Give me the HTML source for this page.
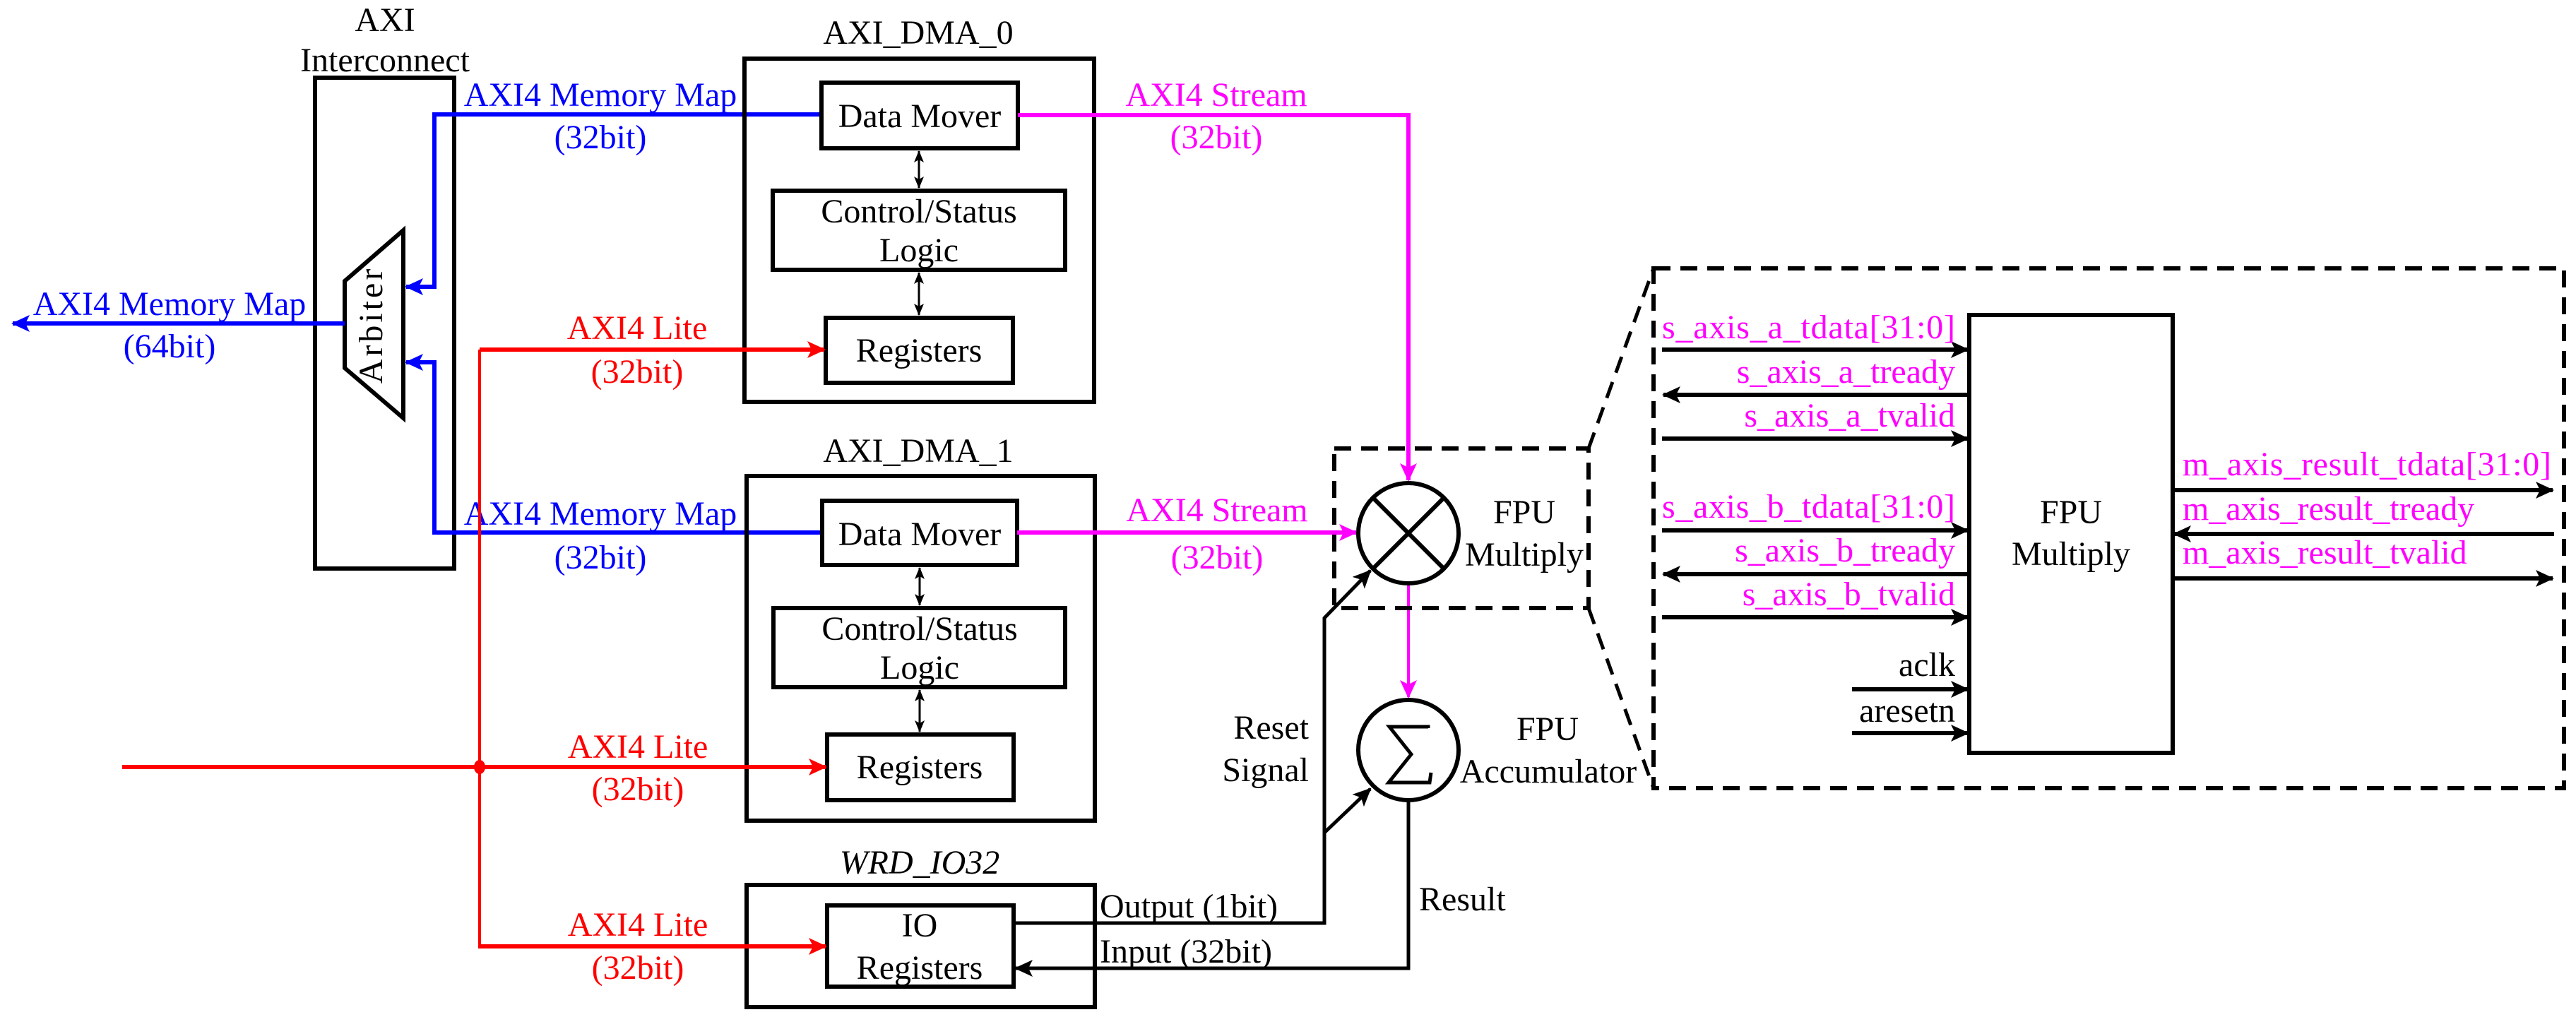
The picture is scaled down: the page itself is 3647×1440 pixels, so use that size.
<!DOCTYPE html>
<html><head><meta charset="utf-8"><style>
html,body{margin:0;padding:0;background:#fff;}
svg{display:block;font-family:"Liberation Serif","Times New Roman","DejaVu Serif",serif;}
svg text{font-family:"Liberation Serif","Times New Roman","DejaVu Serif",serif;font-size:48px;}
</style></head><body>
<svg width="3647" height="1440" viewBox="0 0 3647 1440" xmlns="http://www.w3.org/2000/svg" font-family="Liberation Serif, Times New Roman, DejaVu Serif, serif" font-size="48">
<defs>
<marker id="ab" markerUnits="userSpaceOnUse" markerWidth="30" markerHeight="30" refX="24" refY="12" orient="auto"><path d="M0,0 L26,12 L0,24 L6,12 Z" fill="#0000ff"/></marker>
<marker id="ar" markerUnits="userSpaceOnUse" markerWidth="30" markerHeight="30" refX="24" refY="12" orient="auto"><path d="M0,0 L26,12 L0,24 L6,12 Z" fill="#ff0000"/></marker>
<marker id="am" markerUnits="userSpaceOnUse" markerWidth="30" markerHeight="30" refX="24" refY="12" orient="auto"><path d="M0,0 L26,12 L0,24 L6,12 Z" fill="#ff00ff"/></marker>
<marker id="ak" markerUnits="userSpaceOnUse" markerWidth="30" markerHeight="30" refX="24" refY="12" orient="auto"><path d="M0,0 L26,12 L0,24 L6,12 Z" fill="#000"/></marker>
<marker id="as" markerUnits="userSpaceOnUse" markerWidth="20" markerHeight="20" refX="16" refY="7" orient="auto-start-reverse"><path d="M0,0 L17,7 L0,14 L4,7 Z" fill="#000"/></marker>
</defs>

<!-- AXI Interconnect -->
<text x="545" y="44" text-anchor="middle">AXI</text>
<text x="545" y="101" text-anchor="middle">Interconnect</text>
<rect x="446" y="110" width="197" height="695" fill="none" stroke="#000" stroke-width="6"/>
<polygon points="571,326 488,398 488,521 571,592" fill="#fff" stroke="#000" stroke-width="6"/>
<text x="0" y="0" transform="translate(541,460) rotate(-90)" text-anchor="middle" letter-spacing="4">Arbiter</text>

<!-- blue -->
<polyline points="1163,162 615,162 615,406 575,406" fill="none" stroke="#0000ff" stroke-width="6" marker-end="url(#ab)"/>
<polyline points="1164,754 615,754 615,513 575,513" fill="none" stroke="#0000ff" stroke-width="6" marker-end="url(#ab)"/>
<line x1="488" y1="458" x2="18" y2="458" stroke="#0000ff" stroke-width="6" marker-end="url(#ab)"/>
<g fill="#0000ff">
<text x="850" y="150" text-anchor="middle">AXI4 Memory Map</text>
<text x="850" y="210" text-anchor="middle">(32bit)</text>
<text x="240" y="446" text-anchor="middle">AXI4 Memory Map</text>
<text x="240" y="506" text-anchor="middle">(64bit)</text>
<text x="850" y="743" text-anchor="middle">AXI4 Memory Map</text>
<text x="850" y="805" text-anchor="middle">(32bit)</text>
</g>

<!-- DMA 0 -->
<text x="1300" y="62" text-anchor="middle">AXI_DMA_0</text>
<rect x="1054" y="83" width="495" height="486" fill="none" stroke="#000" stroke-width="6"/>
<rect x="1163" y="117" width="278" height="93" fill="none" stroke="#000" stroke-width="6"/>
<text x="1302" y="180" text-anchor="middle">Data Mover</text>
<rect x="1094" y="270" width="414" height="112" fill="none" stroke="#000" stroke-width="6"/>
<text x="1301" y="315" text-anchor="middle">Control/Status</text>
<text x="1301" y="370" text-anchor="middle">Logic</text>
<rect x="1169" y="450" width="265" height="92" fill="none" stroke="#000" stroke-width="6"/>
<text x="1301" y="512" text-anchor="middle">Registers</text>
<line x1="1301" y1="214" x2="1301" y2="266" stroke="#000" stroke-width="3" marker-start="url(#as)" marker-end="url(#as)"/>
<line x1="1301" y1="386" x2="1301" y2="446" stroke="#000" stroke-width="3" marker-start="url(#as)" marker-end="url(#as)"/>

<!-- DMA 1 -->
<text x="1300" y="654" text-anchor="middle">AXI_DMA_1</text>
<rect x="1057" y="674" width="493" height="488" fill="none" stroke="#000" stroke-width="6"/>
<rect x="1164" y="709" width="276" height="91" fill="none" stroke="#000" stroke-width="6"/>
<text x="1302" y="772" text-anchor="middle">Data Mover</text>
<rect x="1095" y="861" width="413" height="112" fill="none" stroke="#000" stroke-width="6"/>
<text x="1302" y="906" text-anchor="middle">Control/Status</text>
<text x="1302" y="961" text-anchor="middle">Logic</text>
<rect x="1171" y="1040" width="264" height="93" fill="none" stroke="#000" stroke-width="6"/>
<text x="1302" y="1102" text-anchor="middle">Registers</text>
<line x1="1302" y1="804" x2="1302" y2="857" stroke="#000" stroke-width="3" marker-start="url(#as)" marker-end="url(#as)"/>
<line x1="1302" y1="977" x2="1302" y2="1036" stroke="#000" stroke-width="3" marker-start="url(#as)" marker-end="url(#as)"/>

<!-- WRD_IO32 -->
<text x="1302" y="1237" text-anchor="middle" font-style="italic">WRD_IO32</text>
<rect x="1057" y="1253" width="493" height="173" fill="none" stroke="#000" stroke-width="6"/>
<rect x="1171" y="1282" width="264" height="115" fill="none" stroke="#000" stroke-width="6"/>
<text x="1302" y="1326" text-anchor="middle">IO</text>
<text x="1302" y="1386" text-anchor="middle">Registers</text>

<!-- red -->
<line x1="679" y1="495" x2="679" y2="1340" stroke="#ff0000" stroke-width="4"/>
<line x1="679" y1="495" x2="1167" y2="495" stroke="#ff0000" stroke-width="6" marker-end="url(#ar)"/>
<line x1="173" y1="1086" x2="1169" y2="1086" stroke="#ff0000" stroke-width="6" marker-end="url(#ar)"/>
<line x1="677" y1="1340" x2="1169" y2="1340" stroke="#ff0000" stroke-width="6" marker-end="url(#ar)"/>
<ellipse cx="679" cy="1086" rx="8" ry="10" fill="#ff0000"/>
<g fill="#ff0000">
<text x="902" y="480" text-anchor="middle">AXI4 Lite</text>
<text x="902" y="542" text-anchor="middle">(32bit)</text>
<text x="903" y="1073" text-anchor="middle">AXI4 Lite</text>
<text x="903" y="1133" text-anchor="middle">(32bit)</text>
<text x="903" y="1325" text-anchor="middle">AXI4 Lite</text>
<text x="903" y="1386" text-anchor="middle">(32bit)</text>
</g>

<!-- magenta -->
<polyline points="1441,163 1994,163 1994,680" fill="none" stroke="#ff00ff" stroke-width="6" marker-end="url(#am)"/>
<line x1="1440" y1="754" x2="1920" y2="754" stroke="#ff00ff" stroke-width="6" marker-end="url(#am)"/>
<line x1="1994" y1="827" x2="1994" y2="987" stroke="#ff00ff" stroke-width="4" marker-end="url(#am)"/>
<g fill="#ff00ff">
<text x="1722" y="150" text-anchor="middle">AXI4 Stream</text>
<text x="1722" y="210" text-anchor="middle">(32bit)</text>
<text x="1723" y="738" text-anchor="middle">AXI4 Stream</text>
<text x="1723" y="805" text-anchor="middle">(32bit)</text>
</g>

<!-- circles -->
<circle cx="1994" cy="755" r="71" fill="none" stroke="#000" stroke-width="6"/>
<line x1="1944" y1="705" x2="2044" y2="805" stroke="#000" stroke-width="6"/>
<line x1="2044" y1="705" x2="1944" y2="805" stroke="#000" stroke-width="6"/>
<circle cx="1994" cy="1062" r="71" fill="none" stroke="#000" stroke-width="6"/>
<path d="M2022,1031 L2022,1029 L1967,1029 L1998,1068 L1966,1108 L2024,1108 L2026,1094" fill="none" stroke="#000" stroke-width="5"/>
<text x="2158" y="741" text-anchor="middle">FPU</text>
<text x="2158" y="801" text-anchor="middle">Multiply</text>
<text x="2191" y="1048" text-anchor="middle">FPU</text>
<text x="2192" y="1108" text-anchor="middle">Accumulator</text>

<!-- reset / output -->
<polyline points="1435,1307 1875,1307 1875,875 1940,808" fill="none" stroke="#000" stroke-width="5" marker-end="url(#ak)"/>
<line x1="1875" y1="1179" x2="1940" y2="1117" stroke="#000" stroke-width="5" marker-end="url(#ak)"/>
<polyline points="1994,1135 1994,1371 1438,1371" fill="none" stroke="#000" stroke-width="5" marker-end="url(#ak)"/>
<text x="1853" y="1046" text-anchor="end">Reset</text>
<text x="1853" y="1106" text-anchor="end">Signal</text>
<text x="1557" y="1299">Output (1bit)</text>
<text x="1557" y="1363">Input (32bit)</text>
<text x="2009" y="1289">Result</text>

<!-- dashed boxes -->
<rect x="1889" y="635" width="360" height="226" fill="none" stroke="#000" stroke-width="6" stroke-dasharray="24,14"/>
<line x1="2249" y1="635" x2="2341" y2="380" stroke="#000" stroke-width="5" stroke-dasharray="24,14"/>
<line x1="2249" y1="861" x2="2341" y2="1116" stroke="#000" stroke-width="5" stroke-dasharray="24,14"/>
<rect x="2341" y="380" width="1289" height="736" fill="none" stroke="#000" stroke-width="6" stroke-dasharray="24,14"/>

<!-- FPU multiply detail -->
<rect x="2788" y="446" width="288" height="620" fill="none" stroke="#000" stroke-width="6"/>
<text x="2932" y="741" text-anchor="middle">FPU</text>
<text x="2932" y="800" text-anchor="middle">Multiply</text>
<g stroke="#000" stroke-width="6">
<line x1="2353" y1="495" x2="2786" y2="495" marker-end="url(#ak)"/>
<line x1="2788" y1="559" x2="2355" y2="559" marker-end="url(#ak)"/>
<line x1="2353" y1="621" x2="2786" y2="621" marker-end="url(#ak)"/>
<line x1="2353" y1="751" x2="2786" y2="751" marker-end="url(#ak)"/>
<line x1="2788" y1="813" x2="2355" y2="813" marker-end="url(#ak)"/>
<line x1="2353" y1="874" x2="2786" y2="874" marker-end="url(#ak)"/>
<line x1="2622" y1="976" x2="2786" y2="976" marker-end="url(#ak)"/>
<line x1="2622" y1="1038" x2="2786" y2="1038" marker-end="url(#ak)"/>
<line x1="3076" y1="694" x2="3614" y2="694" marker-end="url(#ak)"/>
<line x1="3616" y1="756" x2="3078" y2="756" marker-end="url(#ak)"/>
<line x1="3076" y1="819" x2="3614" y2="819" marker-end="url(#ak)"/>
</g>
<g fill="#ff00ff">
<text x="2353" y="479" textLength="415">s_axis_a_tdata[31:0]</text>
<text x="2768" y="542" text-anchor="end">s_axis_a_tready</text>
<text x="2768" y="604" text-anchor="end">s_axis_a_tvalid</text>
<text x="2353" y="733" textLength="415">s_axis_b_tdata[31:0]</text>
<text x="2768" y="795" text-anchor="end">s_axis_b_tready</text>
<text x="2768" y="857" text-anchor="end">s_axis_b_tvalid</text>
<text x="3090" y="673" textLength="522">m_axis_result_tdata[31:0]</text>
<text x="3090" y="736">m_axis_result_tready</text>
<text x="3090" y="798">m_axis_result_tvalid</text>
</g>
<text x="2768" y="957" text-anchor="end">aclk</text>
<text x="2768" y="1022" text-anchor="end">aresetn</text>
</svg>
</body></html>
